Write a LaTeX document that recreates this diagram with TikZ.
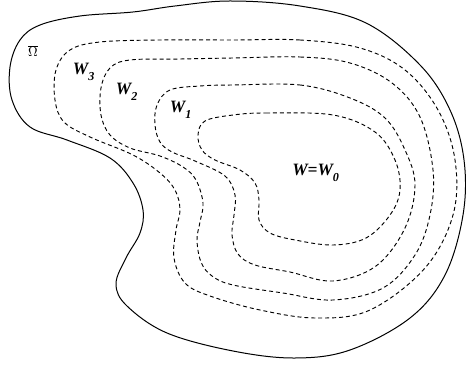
\documentclass[tikz,border=0pt]{standalone}
\usepackage{fontspec}
\setmainfont{Liberation Serif}
\begin{document}
\begin{tikzpicture}[x=0.75pt,y=-0.75pt,
  outerline/.style={line width=0.75pt,black},
  level/.style={line width=0.7pt,black,dash pattern=on 3pt off 2.2pt},
  lab/.style={font=\fontsize{13}{15}\selectfont\bfseries\itshape,inner sep=0pt}]
\useasboundingbox (0,0) rectangle (466,366);
% outer region
\draw[outerline] plot[smooth cycle,tension=0.6] coordinates {
(230,1) (300,6) (366,23) (420,65) (450,110) (464,160) (463,215) (445,275)
(410,318) (350,350) (295,358) (233,351) (167,333) (127,306) (116,284)
(126,258) (140,233) (143,210) (133,183) (110,158) (67,140) (30,127)
(12,100) (10,67) (20,40) (40,25) (80,16) (133,12) (175,6)};
% W3
\draw[level] plot[smooth cycle,tension=0.6] coordinates {
(233,40) (300,40) (360,48) (405,70) (438,110) (455,160) (453,215) (425,268)
(370,310) (316,318) (260,310) (210,296) (185,283) (174,258) (176,230)
(180,210) (175,190) (160,173) (133,155) (90,137) (64,122) (55,100)
(56,70) (70,50) (100,42) (160,40)};
% W2
\draw[level] plot[smooth cycle,tension=0.6] coordinates {
(233,58) (300,57) (350,63) (392,83) (420,117) (433,170) (430,215) (415,255)
(383,288) (333,300) (283,293) (233,285) (212,276) (201,262) (197,240)
(200,222) (203,203) (196,180) (183,167) (160,156) (130,148) (110,135)
(101,115) (101,88) (110,68) (130,60) (180,59)};
% W1
\draw[level] plot[smooth cycle,tension=0.6] coordinates {
(233,85) (300,85) (350,98) (385,118) (405,150) (415,185) (405,228)
(376,266) (333,281) (290,272) (255,265) (238,254) (232,235) (234,215)
(235,195) (225,176) (195,161) (172,152) (160,142) (155,125) (157,105)
(170,90) (200,86)};
% W0
\draw[level] plot[smooth cycle,tension=0.6] coordinates {
(233,115) (266,113) (333,115) (375,132) (395,160) (400,190) (390,215)
(366,238) (333,245) (295,240) (270,233) (259,220) (259,200) (255,183)
(240,170) (215,160) (202,150) (198,135) (205,121)};
% labels
\node[font=\fontsize{10}{12}\selectfont,inner sep=0pt] (om) at (33,51) {$\overline{\Omega}$};
\node[lab] (w3) at (84,72) {W\textsubscript{\raisebox{-0.6ex}{3}}};
\node[lab] (w2) at (127,92) {W\textsubscript{\raisebox{-0.6ex}{2}}};
\node[lab] (w1) at (181,110) {W\textsubscript{\raisebox{-0.6ex}{1}}};
\node[lab] (w0) at (316,173) {W=W\textsubscript{\raisebox{-0.6ex}{0}}};
\end{tikzpicture}
\end{document}
